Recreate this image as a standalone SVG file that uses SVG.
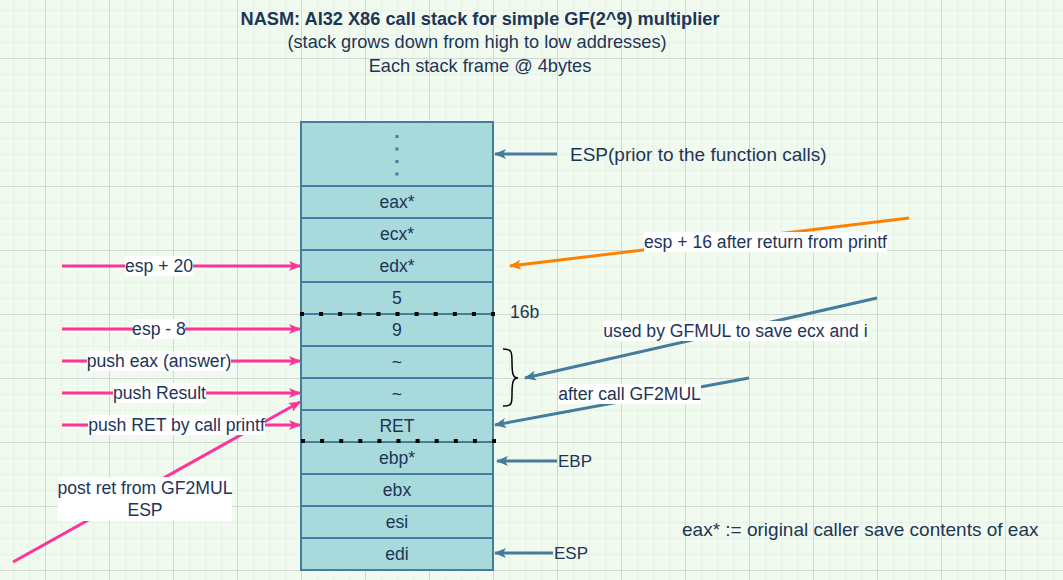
<svg xmlns="http://www.w3.org/2000/svg" width="1063" height="580" viewBox="0 0 1063 580">
<style>
text{font-family:"Liberation Sans",Arial,sans-serif;font-size:17.6px;fill:#1D3557}
.c{text-anchor:middle}
.t{font-size:18.2px}
.big{font-size:19px}
.ptr{font-size:17px}
.row{fill:#A8DADC;stroke:#457B9D;stroke-width:2}
.pk{stroke:#FF3399;stroke-width:3;fill:none}
.bl{stroke:#457B9D;stroke-width:3;fill:none}
.or{stroke:#FF8000;stroke-width:3;fill:none}
.lb{fill:#FFFFFF}
.dot{stroke:#000;stroke-width:4;stroke-dasharray:4 15.1;fill:none}
</style>
<defs>
<pattern id="minor" x="13" y="10" width="16" height="16" patternUnits="userSpaceOnUse">
<path d="M0,0 V16 M0,0 H16" stroke="#E6EFE3" stroke-width="1.5" fill="none"/>
</pattern>
<pattern id="major" x="45" y="58" width="64" height="64" patternUnits="userSpaceOnUse">
<path d="M0.5,0 V64 M0,0.5 H64" stroke="#D2D8D2" stroke-width="1" fill="none"/>
</pattern>
<marker id="apk" viewBox="0 0 12 10" refX="11" refY="5" markerWidth="12" markerHeight="10" markerUnits="userSpaceOnUse" orient="auto">
<path d="M0,0 L12,5 L0,10 L3,5 Z" fill="#FF3399"/>
</marker>
<marker id="abl" viewBox="0 0 12 10" refX="11" refY="5" markerWidth="12" markerHeight="10" markerUnits="userSpaceOnUse" orient="auto">
<path d="M0,0 L12,5 L0,10 L3,5 Z" fill="#457B9D"/>
</marker>
<marker id="aor" viewBox="0 0 12 10" refX="11" refY="5" markerWidth="12" markerHeight="10" markerUnits="userSpaceOnUse" orient="auto">
<path d="M0,0 L12,5 L0,10 L3,5 Z" fill="#FF8000"/>
</marker>
</defs>
<rect width="1063" height="580" fill="#F1FAEE"/>
<rect width="1063" height="580" fill="url(#minor)"/>
<rect width="1063" height="580" fill="url(#major)"/>

<g id="title">
<text class="c t" x="480" y="25" style="font-weight:bold">NASM: AI32 X86 call stack for simple GF(2^9) multiplier</text>
<text class="c t" x="477" y="48">(stack grows down from high to low addresses)</text>
<text class="c t" x="480" y="72">Each stack frame @ 4bytes</text>
</g>

<g id="stack">
<g id="cell-top"><rect class="row" x="301" y="122" width="192" height="64"/>
<line x1="397" y1="135" x2="397" y2="178" stroke="#457B9D" stroke-width="3" stroke-dasharray="3 9.5"/></g>
<g id="cell-eax"><rect class="row" x="301" y="186" width="192" height="32"/><text class="c" x="397" y="208">eax*</text></g>
<g id="cell-ecx"><rect class="row" x="301" y="218" width="192" height="32"/><text class="c" x="397" y="240">ecx*</text></g>
<g id="cell-edx"><rect class="row" x="301" y="250" width="192" height="32"/><text class="c" x="397" y="272">edx*</text></g>
<g id="cell-5"><rect class="row" x="301" y="282" width="192" height="32"/><text class="c" x="397" y="304">5</text></g>
<g id="cell-9"><rect class="row" x="301" y="314" width="192" height="32"/><text class="c" x="397" y="336">9</text></g>
<g id="cell-t1"><rect class="row" x="301" y="346" width="192" height="32"/><text class="c" x="397" y="368">~</text></g>
<g id="cell-t2"><rect class="row" x="301" y="378" width="192" height="32"/><text class="c" x="397" y="400">~</text></g>
<g id="cell-ret"><rect class="row" x="301" y="410" width="192" height="32"/><text class="c" x="397" y="432">RET</text></g>
<g id="cell-ebp"><rect class="row" x="301" y="442" width="192" height="32"/><text class="c" x="397" y="464">ebp*</text></g>
<g id="cell-ebx"><rect class="row" x="301" y="474" width="192" height="32"/><text class="c" x="397" y="496">ebx</text></g>
<g id="cell-esi"><rect class="row" x="301" y="506" width="192" height="32"/><text class="c" x="397" y="528">esi</text></g>
<g id="cell-edi"><rect class="row" x="301" y="538" width="192" height="32"/><text class="c" x="397" y="560">edi</text></g>
</g>

<g id="dividers">
<line class="dot" x1="300" y1="314" x2="500" y2="314"/>
<line class="dot" x1="301" y1="441" x2="497" y2="441"/>
</g>

<g id="connectors">
<line class="pk" x1="62" y1="266" x2="300" y2="266" marker-end="url(#apk)"/>
<line class="pk" x1="62" y1="329" x2="300" y2="329" marker-end="url(#apk)"/>
<line class="pk" x1="62" y1="361" x2="300" y2="361" marker-end="url(#apk)"/>
<line class="pk" x1="62" y1="393" x2="300" y2="393" marker-end="url(#apk)"/>
<line class="pk" x1="62" y1="425" x2="300" y2="425" marker-end="url(#apk)"/>
<line class="pk" x1="13" y1="562" x2="300" y2="402" marker-end="url(#apk)"/>
<line class="bl" x1="557" y1="154" x2="495" y2="154" marker-end="url(#abl)"/>
<line class="bl" x1="557" y1="461" x2="497" y2="461" marker-end="url(#abl)"/>
<line class="bl" x1="553" y1="553" x2="495" y2="553" marker-end="url(#abl)"/>
<line class="or" x1="909" y1="218" x2="510" y2="266" marker-end="url(#aor)"/>
<line class="bl" x1="877" y1="298" x2="525" y2="378" marker-end="url(#abl)"/>
<line class="bl" x1="749" y1="378" x2="495" y2="425" marker-end="url(#abl)"/>
<path d="M503,349 C512,349 512,352 512,362 C512,374 513,378 518,378 C513,378 512,382 512,394 C512,404 512,406 503,406" fill="none" stroke="#000" stroke-width="1.5"/>
</g>

<g id="labels">
<rect class="lb" x="125" y="256" width="68" height="20"/><text class="c" x="159" y="272">esp + 20</text>
<rect class="lb" x="133" y="319" width="52" height="20"/><text class="c" x="159" y="335">esp - 8</text>
<rect class="lb" x="87" y="351" width="144" height="20"/><text class="c" x="159" y="367">push eax (answer)</text>
<rect class="lb" x="113" y="383" width="93" height="20"/><text class="c" x="159.5" y="399">push Result</text>
<rect class="lb" x="88" y="415" width="177" height="20"/><text class="c" x="176.5" y="431">push RET by call printf</text>
<rect class="lb" x="58" y="477" width="174" height="44"/>
<text class="c" x="145" y="494">post ret from GF2MUL</text>
<text class="c" x="145" y="516">ESP</text>
<rect class="lb" x="644" y="232" width="243" height="20"/><text class="c" x="765.5" y="248">esp + 16 after return from printf</text>
<rect class="lb" x="603" y="321" width="265" height="20"/><text class="c" x="735.5" y="337">used by GFMUL to save ecx and i</text>
<rect class="lb" x="558" y="384" width="143" height="20"/><text class="c" x="629.5" y="400">after call GF2MUL</text>
<text class="big" x="570" y="161">ESP(prior to the function calls)</text>
<text x="510" y="318">16b</text>
<text class="ptr" x="558" y="467">EBP</text>
<text class="ptr" x="554" y="559">ESP</text>
<text class="big" x="682" y="536">eax* := original caller save contents of eax</text>
</g>
</svg>
